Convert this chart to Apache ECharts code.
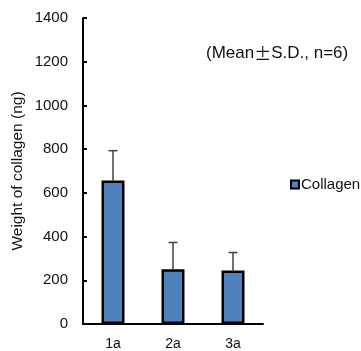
<!DOCTYPE html>
<html>
<head>
<meta charset="utf-8">
<script src="https://cdn.jsdelivr.net/npm/echarts@6/dist/echarts.min.js"></script>
<style>html,body{margin:0;padding:0;background:#fff;}#c{width:361px;height:351px;}</style>
</head>
<body>
<div id="c"></div>
<script>
var categories = ['1a', '2a', '3a'];
var means = [657, 251, 245];
var sds = [136, 122, 82];
var yTicks = [0, 200, 400, 600, 800, 1000, 1200, 1400];

var chart = echarts.init(document.getElementById('c'), null, {renderer: 'canvas'});
var font = 'Liberation Sans, Arial, sans-serif';
chart.setOption({
  animation: false,
  backgroundColor: '#fff',
  title: {
    text: '(Mean{pm|\u00B1}S.D., n=6)',
    left: 201, top: 40,
    textStyle: {
      fontFamily: font, fontSize: 17, fontWeight: 'normal', color: '#111',
      rich: {pm: {fontFamily: 'Noto Sans CJK JP', fontSize: 17, color: '#111'}}
    }
  },
  legend: {
    data: ['Collagen'],
    left: 285, top: 172,
    icon: 'rect', itemWidth: 8, itemHeight: 8, itemGap: 2,
    textStyle: {fontFamily: font, fontSize: 15, color: '#111', padding: [0,0,0,-3]}
  },
  grid: {left: 83, right: 98, top: 18, bottom: 26},
  xAxis: {
    type: 'category',
    data: categories,
    boundaryGap: true,
    axisLine: {lineStyle: {color: '#000', width: 2}},
    axisTick: {inside: true, length: 4, lineStyle: {color: '#000', width: 2}},
    axisLabel: {fontFamily: font, fontSize: 14, color: '#111', margin: 13}
  },
  yAxis: {
    type: 'value',
    min: yTicks[0], max: yTicks[yTicks.length - 1], interval: 200,
    name: 'Weight of collagen (ng)',
    nameLocation: 'middle', nameGap: 57,
    nameTextStyle: {fontFamily: font, fontSize: 15.5, color: '#111'},
    axisLine: {show: true, lineStyle: {color: '#000', width: 2}},
    axisTick: {show: true, inside: true, length: 4, lineStyle: {color: '#000', width: 2}},
    axisLabel: {fontFamily: font, fontSize: 15, color: '#111', margin: 15,
      formatter: function (v) { return String(v); }},
    splitLine: {show: false}
  },
  series: [
    {
      name: 'Collagen',
      type: 'bar',
      data: means,
      barWidth: 23,
      itemStyle: {color: '#4F81BD', borderColor: '#000', borderWidth: 2.5},
      z: 2
    },
    {
      type: 'custom',
      data: categories.map(function (c, i) { return [i, means[i], means[i] + sds[i]]; }),
      renderItem: function (params, api) {
        var x = api.value(0);
        var lo = api.coord([x, api.value(1)]);
        var hi = api.coord([x, api.value(2)]);
        var hw = 4.5;
        var st = {stroke: '#404040', lineWidth: 1.5};
        return {
          type: 'group',
          children: [
            {type: 'line', shape: {x1: lo[0], y1: lo[1], x2: hi[0], y2: hi[1]}, style: st},
            {type: 'line', shape: {x1: hi[0] - hw, y1: hi[1], x2: hi[0] + hw, y2: hi[1]}, style: st}
          ]
        };
      },
      z: 1
    }
  ]
});
</script>
</body>
</html>
